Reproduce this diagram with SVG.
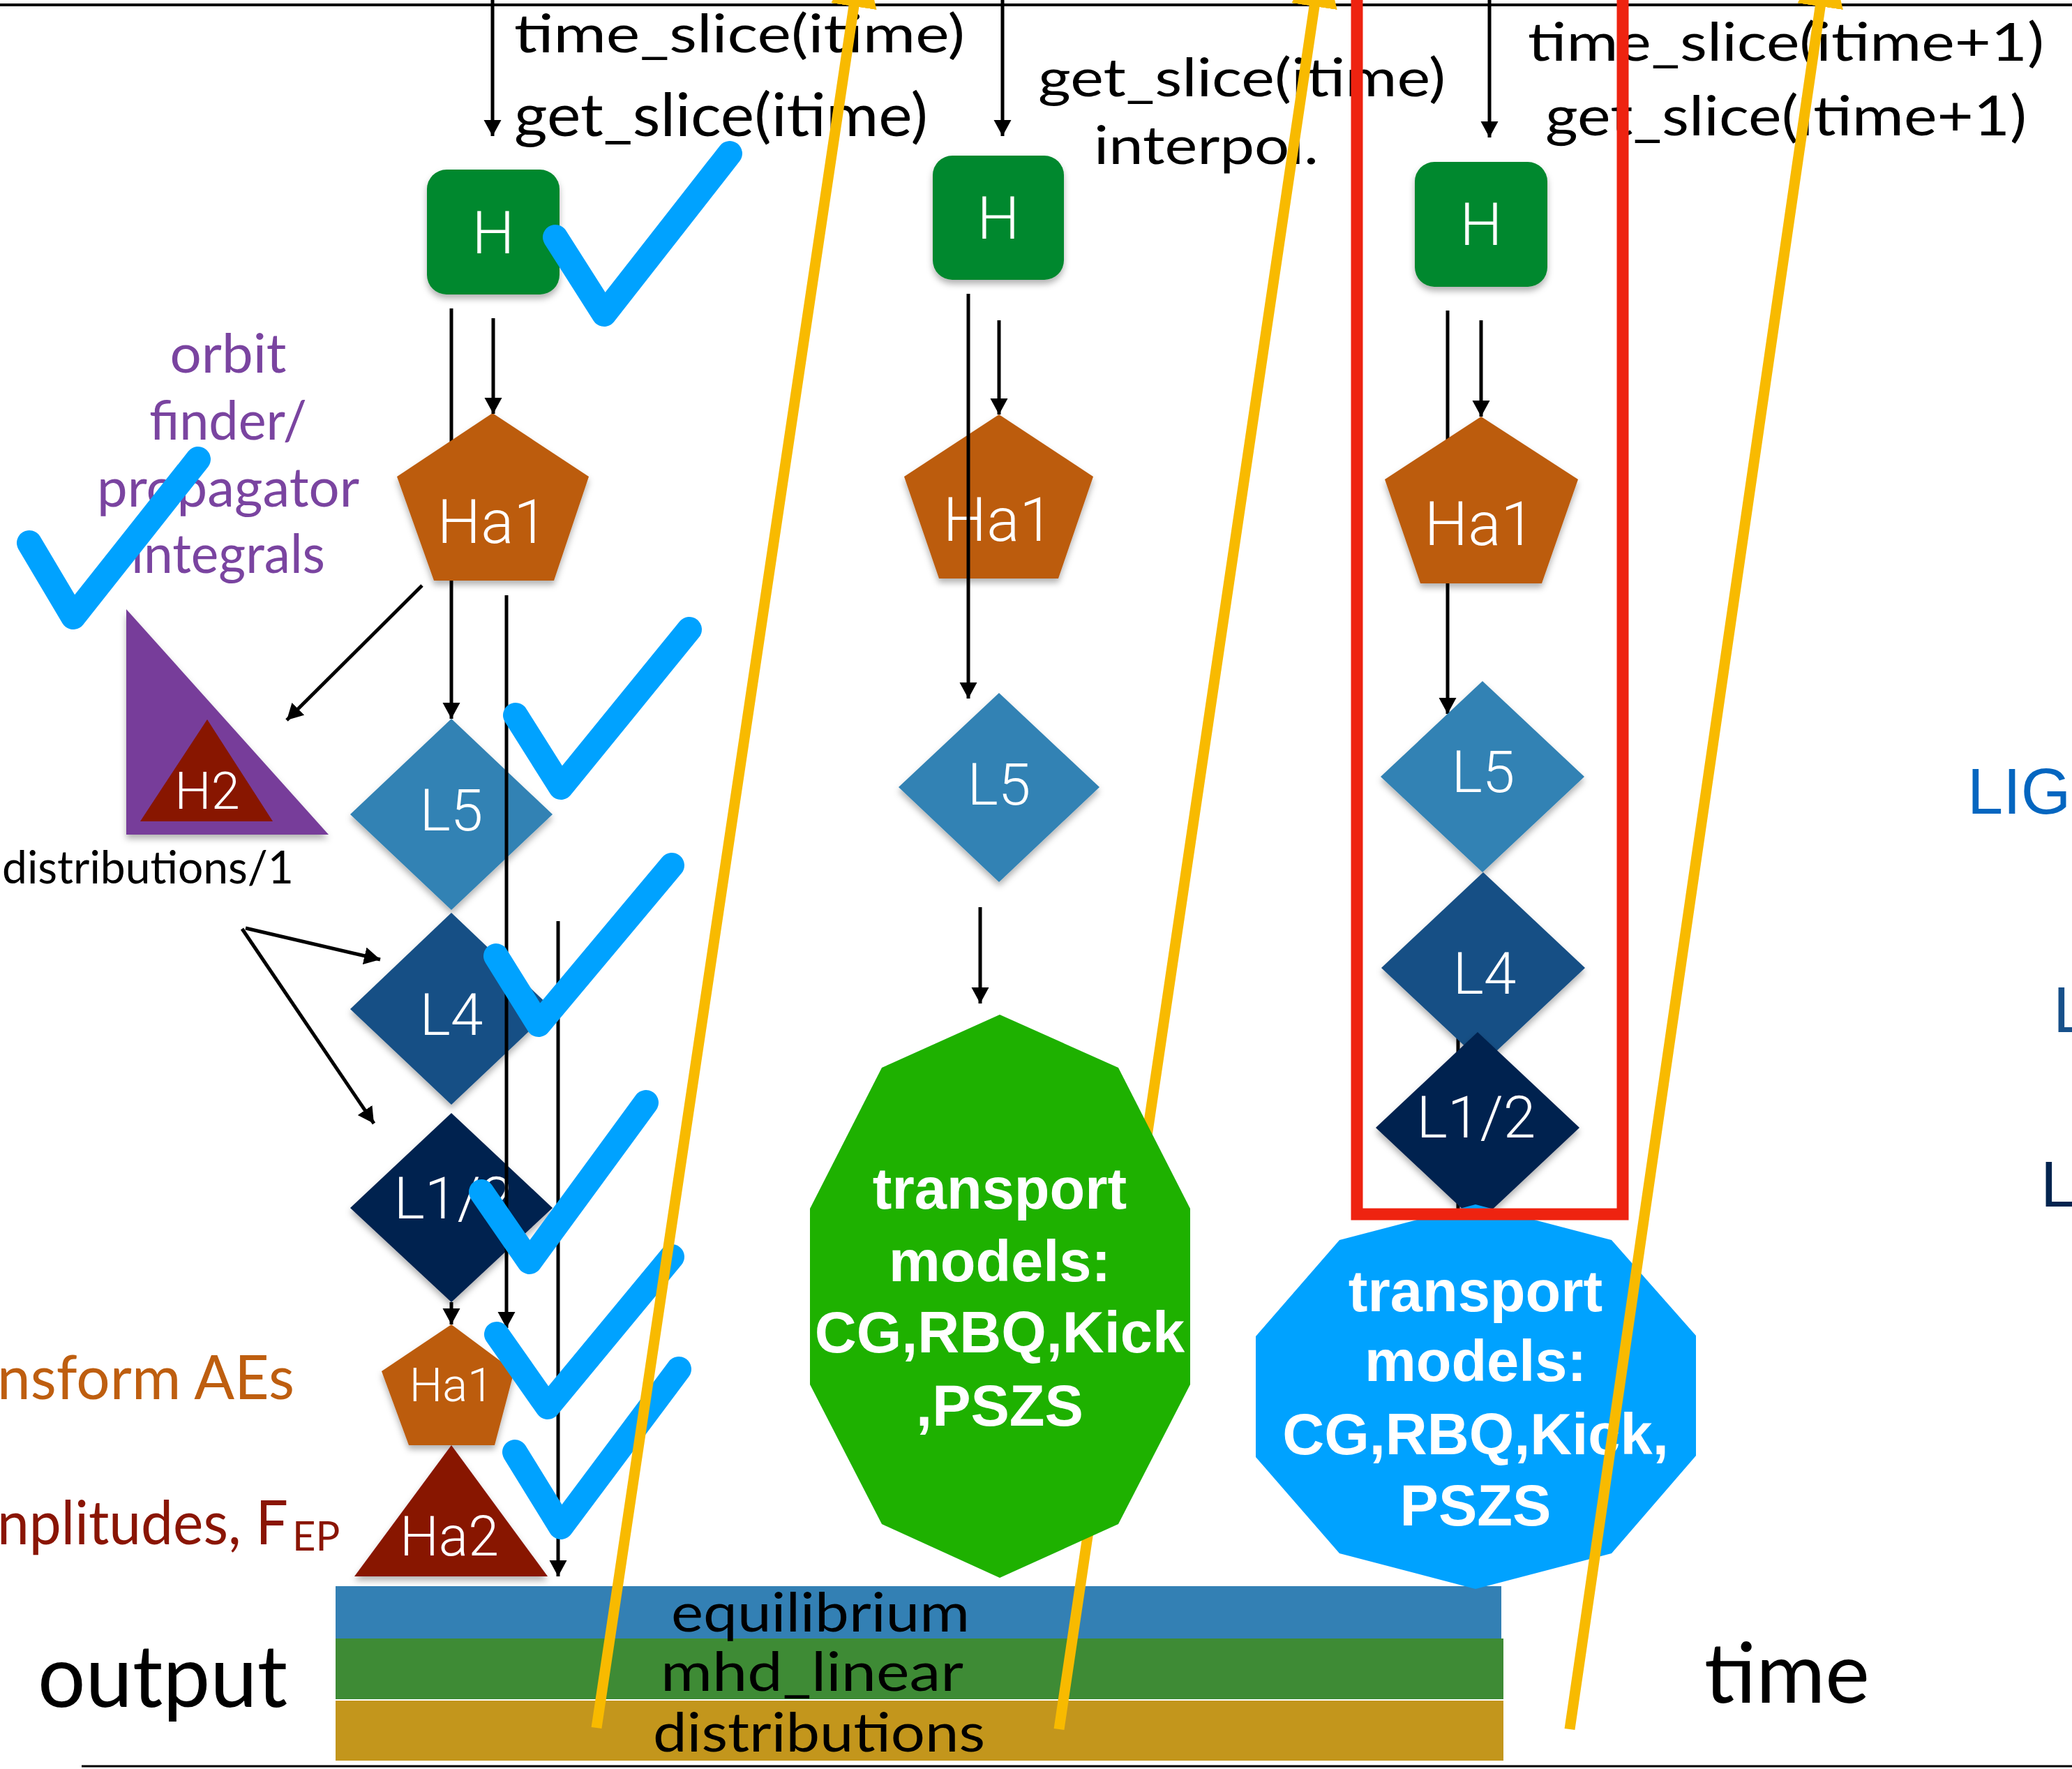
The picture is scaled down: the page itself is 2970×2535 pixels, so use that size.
<svg xmlns="http://www.w3.org/2000/svg" width="2970" height="2535" viewBox="0 0 2970 2535">
<style>
.conn{stroke:#000;stroke-width:5;fill:none}
.arr{marker-end:url(#ah)}
.lbl{font-family:Roboto,"Liberation Sans",sans-serif;font-weight:300;fill:#fff;text-anchor:middle}
.gill{font-family:Lato,"Open Sans","Liberation Sans",sans-serif}
.tm{font-family:"Liberation Sans",Arial,sans-serif;font-weight:bold;fill:#fff;text-anchor:middle;font-size:83px}
.chk{fill:none;stroke:#00A2FF;stroke-width:36;stroke-linecap:round;stroke-linejoin:round}
.yl{stroke:#F8BA00;stroke-width:15;fill:none;marker-end:url(#yh)}
.side{font-family:"Liberation Sans",Arial,sans-serif;font-size:92px}
</style>
<defs>
<marker id="ah" markerUnits="userSpaceOnUse" markerWidth="25" markerHeight="26" refX="23" refY="12.5" orient="auto"><path d="M0,0 L23,12.5 L0,25 z" fill="#000"/></marker>
<marker id="yh" markerUnits="userSpaceOnUse" markerWidth="84" markerHeight="68" refX="82" refY="33" orient="auto"><path d="M0,0 L82,33 L0,66 z" fill="#F8BA00"/></marker>
<filter id="sh" x="-20%" y="-20%" width="140%" height="150%"><feDropShadow dx="0" dy="6" stdDeviation="5" flood-color="#000" flood-opacity="0.3"/></filter>
</defs>
<rect width="2970" height="2535" fill="#fff"/>
<line x1="0" y1="7" x2="2970" y2="7" stroke="#000" stroke-width="4"/>
<line x1="117" y1="2531" x2="2970" y2="2531" stroke="#000" stroke-width="3"/>

<g id="connectors-behind">
<line class="conn arr" x1="647" y1="442" x2="647" y2="1030"/>
<line class="conn arr" x1="2075" y1="445" x2="2075" y2="1023"/>
<line class="conn" x1="2090" y1="1380" x2="2090" y2="1760"/>
</g>

<g id="bars">
<rect x="481" y="2273" width="1671" height="76" fill="#3380B4"/>
<rect x="481" y="2348" width="1674" height="87" fill="#3E8B35"/>
<rect x="481" y="2437" width="1674" height="86" fill="#C3961C"/>
</g>

<g id="H-1" filter="url(#sh)"><rect x="612" y="243" width="190" height="179" rx="28" fill="#03882E"/><text class="lbl" x="707" y="363" font-size="86">H</text></g>
<g id="H-2" filter="url(#sh)"><rect x="1337" y="223" width="188" height="178" rx="28" fill="#03882E"/><text class="lbl" x="1431" y="342" font-size="86">H</text></g>
<g id="H-3" filter="url(#sh)"><rect x="2028" y="232" width="190" height="179" rx="28" fill="#03882E"/><text class="lbl" x="2123" y="351" font-size="86">H</text></g>

<g id="Ha1-1" filter="url(#sh)"><polygon points="706,592 844,683 794,832 622,832 569,683" fill="#BC5B0E"/><text class="lbl" x="706" y="778" font-size="88">Ha1</text></g>
<g id="Ha1-2" filter="url(#sh)"><polygon points="1432,594 1567,683 1517,829 1346,829 1296,683" fill="#BC5B0E"/><text class="lbl" x="1431" y="775" font-size="88">Ha1</text></g>
<g id="Ha1-3" filter="url(#sh)"><polygon points="2123,597 2262,687 2210,836 2036,836 1985,687" fill="#BC5B0E"/><text class="lbl" x="2121" y="781" font-size="88">Ha1</text></g>

<g id="H2" filter="url(#sh)"><polygon points="181,873 181,1196 471,1196" fill="#773D9A"/><polygon points="297,1031 201,1177 391,1177" fill="#881300"/><text class="lbl" x="297" y="1159" font-size="74">H2</text></g>

<g id="L5-1" filter="url(#sh)"><polygon points="647,1030 792,1167 647,1304 502,1167" fill="#3282B4"/><text class="lbl" x="647" y="1190" font-size="84">L5</text></g>
<g id="L4-1" filter="url(#sh)"><polygon points="647,1308 792,1446 647,1583 502,1446" fill="#174F85"/><text class="lbl" x="647" y="1483" font-size="84">L4</text></g>
<g id="L12-1" filter="url(#sh)"><polygon points="647,1595 792,1731 647,1866 502,1731" fill="#02244F"/><text class="lbl" x="650" y="1746" font-size="84">L1/2</text></g>
<g id="Ha1-small" filter="url(#sh)"><polygon points="647,1898 737,1965 709,2071 586,2071 547,1965" fill="#BC5B0E"/><text class="lbl" x="647" y="2008" font-size="67">Ha1</text></g>
<g id="Ha2" filter="url(#sh)"><polygon points="647,2071 785,2259 508,2259" fill="#881300"/><text class="lbl" x="644" y="2229" font-size="79">Ha2</text></g>

<g id="L5-2" filter="url(#sh)"><polygon points="1432,993 1576,1128 1432,1264 1288,1128" fill="#3282B4"/><text class="lbl" x="1432" y="1153" font-size="84">L5</text></g>

<g id="L5-3" filter="url(#sh)"><polygon points="2125,976 2271,1113 2125,1250 1979,1113" fill="#3282B4"/><text class="lbl" x="2126" y="1135" font-size="84">L5</text></g>
<g id="L4-3" filter="url(#sh)"><polygon points="2126,1250 2272,1387 2126,1524 1980,1387" fill="#174F85"/><text class="lbl" x="2128" y="1424" font-size="84">L4</text></g>
<g id="L12-3" filter="url(#sh)"><polygon points="2118,1479 2264,1616 2118,1753 1972,1616" fill="#02244F"/><text class="lbl" x="2116" y="1630" font-size="84">L1/2</text></g>

<g id="transport-3"><polygon points="2115,1726 2310,1777 2431,1914 2431,2086 2310,2226 2115,2277 1920,2226 1800,2088 1800,1915 1920,1777" fill="#00A2FF"/>
<text class="tm" x="2115" y="1879">transport</text><text class="tm" x="2115" y="1979">models:</text><text class="tm" x="2115" y="2084">CG,RBQ,Kick,</text><text class="tm" x="2115" y="2186">PSZS</text></g>

<g id="connectors">
<line class="conn arr" x1="706" y1="0" x2="706" y2="195"/>
<line class="conn arr" x1="1437" y1="0" x2="1437" y2="195"/>
<line class="conn arr" x1="2135" y1="0" x2="2135" y2="197"/>
<line class="conn arr" x1="707" y1="456" x2="707" y2="593"/>
<line class="conn arr" x1="726" y1="853" x2="726" y2="1903"/>
<line class="conn arr" x1="800" y1="1320" x2="800" y2="2259"/>
<line class="conn arr" x1="605" y1="839" x2="411" y2="1032"/>
<line class="conn arr" x1="647" y1="1866" x2="647" y2="1898"/>
<line class="conn arr" x1="352" y1="1330" x2="545" y2="1375"/>
<line class="conn arr" x1="347" y1="1331" x2="536" y2="1610"/>
<line class="conn arr" x1="1432" y1="459" x2="1432" y2="594"/>
<line class="conn arr" x1="1388" y1="421" x2="1388" y2="1001"/>
<line class="conn arr" x1="1405" y1="1300" x2="1405" y2="1438"/>
<line class="conn arr" x1="2123" y1="459" x2="2123" y2="597"/>
</g>

<g id="labels" class="gill">
<text x="737" y="75" font-size="76" textLength="646" lengthAdjust="spacingAndGlyphs">time_slice(itime)</text>
<text x="737" y="195" font-size="86" textLength="593" lengthAdjust="spacingAndGlyphs">get_slice(itime)</text>
<text x="1488" y="138" font-size="76" textLength="584" lengthAdjust="spacingAndGlyphs">get_slice(itime)</text>
<text x="1568" y="235" font-size="76" textLength="322" lengthAdjust="spacingAndGlyphs">interpol.</text>
<text x="2190" y="87" font-size="76" textLength="740" lengthAdjust="spacingAndGlyphs">time_slice(itime+1)</text>
<text x="2215" y="194" font-size="80" textLength="690" lengthAdjust="spacingAndGlyphs">get_slice(itime+1)</text>
<g fill="#7A44A0" font-size="78" text-anchor="middle">
<text x="327" y="534" textLength="167" lengthAdjust="spacingAndGlyphs">orbit</text>
<text x="327" y="630" textLength="226" lengthAdjust="spacingAndGlyphs">finder/</text>
<text x="327" y="726" textLength="376" lengthAdjust="spacingAndGlyphs">propagator</text>
<text x="327" y="821" textLength="278" lengthAdjust="spacingAndGlyphs">integrals</text>
</g>
<text x="3" y="1266" font-size="66" textLength="418" lengthAdjust="spacingAndGlyphs">distributions/1</text>
<text x="-4" y="2005" font-size="88" fill="#BE5E0F" textLength="426" lengthAdjust="spacingAndGlyphs">nsform AEs</text>
<text y="2213" font-size="88" fill="#8A1504"><tspan x="-4" textLength="417" lengthAdjust="spacingAndGlyphs">nplitudes, F</tspan><tspan x="419" y="2222" font-size="58">EP</tspan></text>
<text x="54" y="2446" font-size="125" textLength="358" lengthAdjust="spacingAndGlyphs">output</text>
<text x="2443" y="2440" font-size="120" textLength="237" lengthAdjust="spacingAndGlyphs">time</text>
<text x="962" y="2338" font-size="78" textLength="428" lengthAdjust="spacingAndGlyphs">equilibrium</text>
<text x="947" y="2423" font-size="78" textLength="434" lengthAdjust="spacingAndGlyphs">mhd_linear</text>
<text x="936" y="2510" font-size="78" textLength="476" lengthAdjust="spacingAndGlyphs">distributions</text>
</g>
<text class="side" x="2820" y="1166" fill="#0466C0">LIG</text>
<text class="side" x="2943" y="1479" fill="#17508A">L</text>
<text class="side" x="2925" y="1729" fill="#02244F">L</text>

<rect id="highlight" x="1945" y="-20" width="381" height="1760" fill="none" stroke="#EE2310" stroke-width="17"/>

<g id="checks">
<polyline class="chk" points="796,340 866,450 1046,220"/>
<polyline class="chk" points="42,778 105,884 284,658"/>
<polyline class="chk" points="739,1025 804,1128 988,902"/>
<polyline class="chk" points="711,1370 772,1468 963,1240"/>
<polyline class="chk" points="690,1708 759,1808 926,1580"/>
<polyline class="chk" points="712,1912 785,2016 963,1801"/>
<polyline class="chk" points="738,2081 804,2188 973,1962"/>
</g>

<g id="time-arrows">
<line class="yl" x1="855" y1="2476" x2="1236" y2="-72"/>
<line class="yl" x1="1518" y1="2478" x2="1896" y2="-72"/>
<line class="yl" x1="2250" y1="2478" x2="2621" y2="-72"/>
</g>

<g id="transport-2"><polygon points="1433,1454 1603,1530 1706,1732 1706,1984 1603,2184 1433,2261 1264,2184 1161,1984 1161,1732 1264,1530" fill="#1EB100"/>
<text class="tm" x="1433" y="1732">transport</text><text class="tm" x="1433" y="1836">models:</text><text class="tm" x="1433" y="1938">CG,RBQ,Kick</text><text class="tm" x="1433" y="2043">,PSZS</text></g>
</svg>
